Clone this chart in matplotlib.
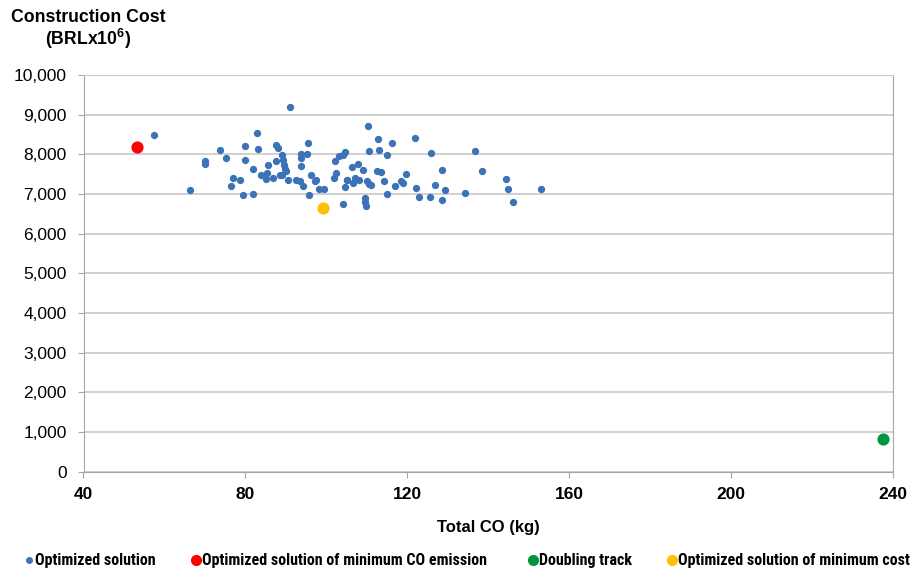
import matplotlib.pyplot as plt
from matplotlib.ticker import FuncFormatter
from matplotlib import font_manager

plt.rcParams["font.family"] = ["Liberation Sans", "DejaVu Sans"]
plt.rcParams["mathtext.fontset"] = "custom"
plt.rcParams["mathtext.rm"] = "Liberation Sans"
plt.rcParams["mathtext.bf"] = "Liberation Sans:bold"

# optimized solutions (total CO kg, construction cost BRLx10^6)
opt_co = [57.5, 66.4, 69.9, 70.1, 73.8, 75.2, 76.5, 77.0, 78.6, 79.5,
          79.9, 79.9, 81.8, 81.8, 82.9, 83.2, 83.8, 85.1, 85.3, 85.7,
          86.7, 87.5, 88.1, 87.6, 88.6, 89.1, 89.1, 89.4, 89.6, 89.9,
          90.1, 90.5, 91.0, 92.5, 93.4, 93.7, 93.8, 93.8, 94.2, 95.2,
          95.5, 95.6, 96.1, 97.3, 97.5, 98.2, 99.3,
          101.8, 102.3, 102.1, 103.2, 104.0, 104.7, 104.0, 104.5, 105.0, 105.1,
          106.3, 106.5, 107.0, 107.8, 108.1, 109.1, 109.5, 109.5, 109.7, 110.2,
          110.1, 110.6, 111.0, 110.5, 112.6, 112.8, 113.0, 113.6, 114.2, 115.1,
          115.1, 116.3, 116.9, 118.5, 118.9, 119.7, 121.8, 122.2, 122.8, 125.5,
          125.9, 126.8, 128.6, 128.5, 129.3, 134.3, 136.8, 138.4, 144.4, 144.8,
          146.0, 153.0]
opt_cost = [8490, 7100, 7826, 7757, 8106, 7902, 7213, 7409, 7358, 6975,
            8209, 7860, 7638, 7000, 8549, 8140, 7485, 7383, 7519, 7740,
            7409, 8234, 8166, 7826, 7477, 7485, 7979, 7852, 7740, 7638,
            7587, 7358, 9187, 7358, 7315, 7715, 8013, 7911, 7196, 8004,
            8285, 6966, 7477, 7315, 7349, 7128, 7128,
            7400, 7528, 7826, 7953, 7970, 8064, 6736, 7187, 7340, 7358,
            7672, 7272, 7400, 7749, 7340, 7604, 6890, 6805, 6694, 8711,
            7315, 7247, 7230, 8089, 7579, 8387, 8098, 7562, 7323, 6992,
            7970, 8285, 7204, 7332, 7272, 7502, 8413, 7162, 6915, 6932,
            8021, 7238, 7613, 6856, 7102, 7026, 8072, 7579, 7383, 7128,
            6796, 7128]

min_co = ([53.2], [8195])
doubling = ([237.5], [820])
min_cost = ([99.2], [6638])

labels = ["Optimized solution", "Optimized solution of minimum CO emission",
          "Doubling track", "Optimized solution of minimum cost"]

# pick the narrowest available sans for the legend row (reference uses a condensed face)
names = {f.name for f in font_manager.fontManager.ttflist}
narrow = "Liberation Sans"
for cand in ["Liberation Sans Narrow", "DejaVu Sans Condensed", "Roboto Condensed", "Roboto"]:
    if cand in names:
        narrow = cand
        break

fig = plt.figure(figsize=(9.21, 5.70), dpi=100)
ax = fig.add_axes([83.5 / 921, 1 - 471.5 / 570, 809.5 / 921, 396.5 / 570])

ax.scatter(opt_co, opt_cost, s=18, color="#3c73b8", zorder=3)
ax.scatter(*min_co, s=60, color="#ff0000", zorder=4)
ax.scatter(*doubling, s=60, color="#00963f", zorder=4)
ax.scatter(*min_cost, s=60, color="#ffc000", zorder=4)

ax.set_xlim(40, 240)
ax.set_ylim(0, 10000)
ax.set_xticks(range(40, 241, 40))
ax.set_yticks(range(0, 10001, 1000))
ax.yaxis.set_major_formatter(FuncFormatter(lambda v, p: f"{int(v):,}"))
ax.grid(axis="y", color="#c8c8c8", linewidth=1.2)
ax.set_axisbelow(True)
for s in ["left", "bottom", "right", "top"]:
    ax.spines[s].set_color("#a6a6a6")
ax.spines["top"].set_color("#c8c8c8")
ax.tick_params(axis="y", labelsize=12.5, length=4, color="#a6a6a6", pad=8)
ax.tick_params(axis="x", labelsize=12.5, length=4, color="#a6a6a6", pad=7)
for lbl in ax.get_xticklabels():
    lbl.set_fontweight("bold")

ax.set_xlabel("Total CO (kg)", fontsize=12, fontweight="bold", labelpad=13)
fig.text(88 / 921, 1 - 18 / 570, "Construction Cost", fontsize=12.7,
         fontweight="bold", ha="center", va="center")
fig.text(88 / 921, 1 - 39 / 570, r"(BRLx10$^{\mathbf{6}}$)", fontsize=12.7,
         fontweight="bold", ha="center", va="center")

# legend row at the bottom
colors = ["#3c73b8", "#ff0000", "#00963f", "#ffc000"]
msizes = [4, 7, 7, 7]
xpos = [29, 196, 533, 672]
widths = [124, 293, 97, 238]
renderer = fig.canvas.get_renderer()
for lab, c, ms, xp, w in zip(labels, colors, msizes, xpos, widths):
    fig.lines.append(plt.Line2D([xp / 921], [1 - 560 / 570], marker="o",
                                markersize=ms, color=c, linestyle="",
                                transform=fig.transFigure))
    t = fig.text((xp + 6) / 921, 1 - 560 / 570, lab, family=[narrow, "DejaVu Sans"],
                 fontsize=11, fontweight="bold", ha="left", va="center")
    cur = t.get_window_extent(renderer).width
    t.set_fontsize(min(11.5, 11 * w / cur))

fig.savefig("out.png", dpi=100)
